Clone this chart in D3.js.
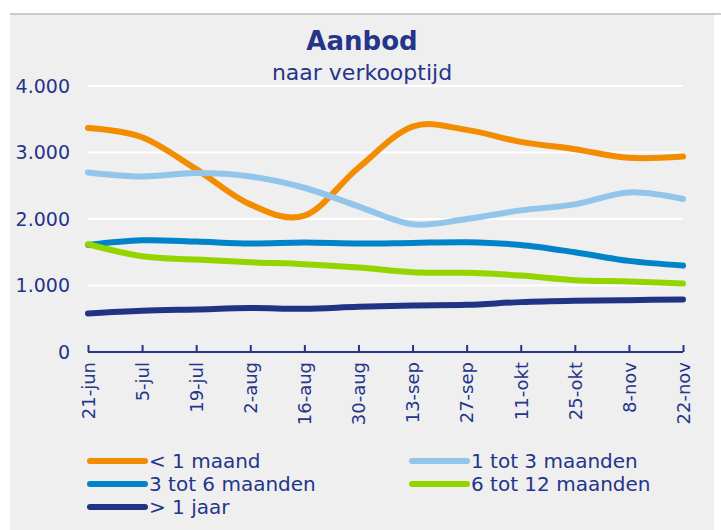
<!DOCTYPE html>
<html>
<head>
<meta charset="utf-8">
<script src="https://cdn.jsdelivr.net/npm/d3@7"></script>
<style>
  body { margin: 0; background: #fff; }
  svg text { font-family: "DejaVu Sans", sans-serif; fill: #24358a; }
</style>
</head>
<body>
<div id="chart"></div>
<script>
// data
var dates = ["21-jun", "5-jul", "19-jul", "2-aug", "16-aug", "30-aug",
             "13-sep", "27-sep", "11-okt", "25-okt", "8-nov", "22-nov"];
var lt1maand   = [3370, 3230, 2750, 2220, 2050, 2770, 3390, 3340, 3160, 3050, 2920, 2940];
var tot3maand  = [2700, 2640, 2690, 2640, 2470, 2190, 1920, 2000, 2130, 2220, 2400, 2300];
var tot6maand  = [1610, 1680, 1660, 1630, 1645, 1630, 1640, 1650, 1610, 1500, 1370, 1300];
var tot12maand = [1620, 1440, 1390, 1350, 1320, 1270, 1200, 1190, 1150, 1080, 1060, 1030];
var gt1jaar    = [580, 620, 640, 660, 650, 680, 700, 710, 750, 770, 780, 790];
var yTicks = [0, 1000, 2000, 3000, 4000];

var series = [
  {name: "< 1 maand",        values: lt1maand,   color: "#f28c00"},
  {name: "1 tot 3 maanden",  values: tot3maand,  color: "#92c5ea"},
  {name: "3 tot 6 maanden",  values: tot6maand,  color: "#0083c9"},
  {name: "6 tot 12 maanden", values: tot12maand, color: "#94d500"},
  {name: "> 1 jaar",         values: gt1jaar,    color: "#1f3485"}
];

var W = 721, H = 530;
var margin = {top: 86, left: 88, right: 38, bottom: 178};
var width = W - margin.left - margin.right,
    height = H - margin.top - margin.bottom;

var svg = d3.select("#chart").append("svg")
    .attr("width", W).attr("height", H);

// grey panel and top rule
svg.append("rect").attr("x", 10).attr("y", 14).attr("width", 704).attr("height", H - 14)
    .attr("fill", "#efefef");
svg.append("line").attr("x1", 10).attr("x2", W).attr("y1", 14).attr("y2", 14)
    .attr("stroke", "#bcbcbc").attr("stroke-width", 1.5);

svg.append("text").attr("x", 362).attr("y", 50).attr("text-anchor", "middle")
    .style("font-size", "26px").style("font-weight", "bold").text("Aanbod");
svg.append("text").attr("x", 362).attr("y", 80).attr("text-anchor", "middle")
    .style("font-size", "22px").text("naar verkooptijd");

var g = svg.append("g")
    .attr("transform", "translate(" + margin.left + "," + margin.top + ")");

var x = d3.scalePoint().domain(dates).range([0, width]);
var y = d3.scaleLinear().domain([0, 4000]).range([height, 0]);

// gridlines
g.selectAll(".grid").data(yTicks.slice(1)).enter().append("line")
    .attr("x1", 0).attr("x2", width)
    .attr("y1", d => y(d)).attr("y2", d => y(d))
    .attr("stroke", "#ffffff").attr("stroke-width", 2);

// y labels
g.selectAll(".ylab").data(yTicks).enter().append("text")
    .attr("x", -18).attr("y", d => y(d)).attr("dy", "0.35em")
    .attr("text-anchor", "end").style("font-size", "19px")
    .text(d => d3.format(",")(d).replace(",", "."));

// x axis
var xAxis = g.append("g").attr("transform", "translate(0," + height + ")")
    .call(d3.axisBottom(x).tickSize(-7).tickPadding(10));
xAxis.select(".domain").attr("stroke", "#24358a").attr("stroke-width", 2)
    .attr("d", "M0,0H" + width);
xAxis.selectAll(".tick line").attr("stroke", "#24358a").attr("stroke-width", 2);
xAxis.selectAll(".tick text")
    .style("font-size", "18px").style("font-family", "DejaVu Sans, sans-serif")
    .attr("fill", "#24358a")
    .attr("transform", "rotate(-90)")
    .attr("x", -10).attr("y", 0).attr("dy", "0.35em")
    .attr("text-anchor", "end");

var line = d3.line()
    .x((d, i) => x(dates[i]))
    .y(d => y(d))
    .curve(d3.curveCardinal);

g.selectAll(".series").data(series).enter().append("path")
    .attr("d", d => line(d.values))
    .attr("fill", "none")
    .attr("stroke", d => d.color)
    .attr("stroke-width", 6)
    .attr("stroke-linecap", "round");

// legend
var legend = svg.append("g");
var items = legend.selectAll("g").data(series).enter().append("g")
    .attr("transform", (d, i) => "translate(" + (i % 2 ? 412 : 90) + "," + (461 + Math.floor(i / 2) * 23) + ")");
items.append("line").attr("x1", 0).attr("x2", 55)
    .attr("stroke", d => d.color).attr("stroke-width", 6).attr("stroke-linecap", "round");
items.append("text").attr("x", 59).attr("dy", "0.35em")
    .style("font-size", "20px").text(d => d.name);
</script>
</body>
</html>
